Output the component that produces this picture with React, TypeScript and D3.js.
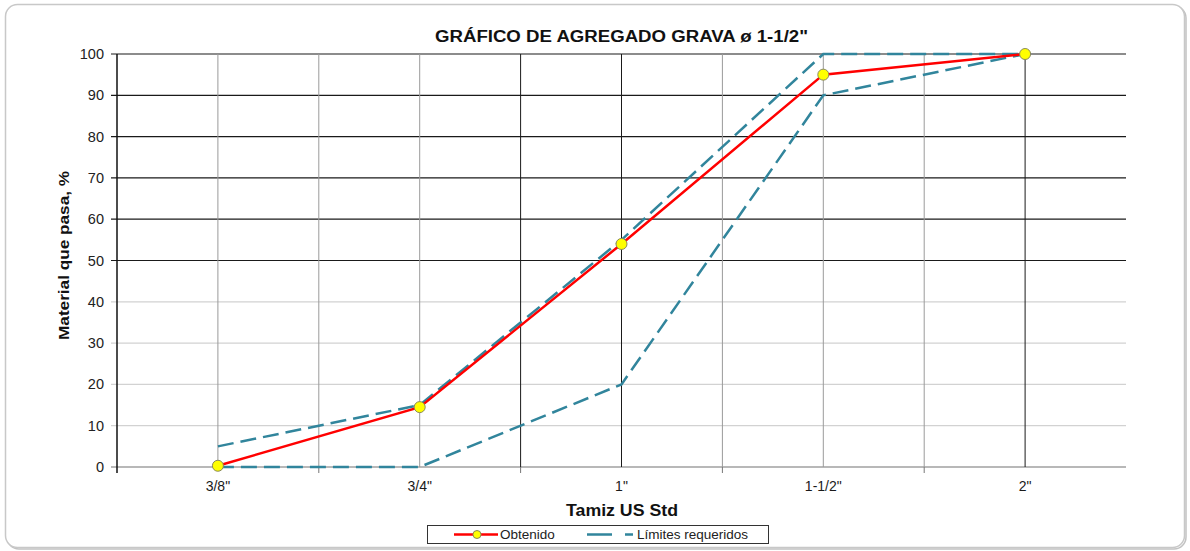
import React from "react";
import * as d3 from "d3";

const categories = ['3/8"', '3/4"', '1"', '1-1/2"', '2"'];
const obtenido = [0.3, 14.5, 54, 95, 100];
const limiteSuperior = [5, 15, 55, 100, 100];
const limiteInferior = [0, 0, 20, 90, 100];
const yTicks = [0, 10, 20, 30, 40, 50, 60, 70, 80, 90, 100];

const W = 1190;
const H = 551;
const left = 117;
const right = 1126;
const top = 54;
const bottom = 467;
const FONT = "'Liberation Sans', Arial, sans-serif";

export default function App() {
  const x = d3.scaleBand<string>().domain(categories).range([left, right]).paddingInner(0).paddingOuter(0);
  const y = d3.scaleLinear().domain([0, 100]).range([bottom, top]);
  const bw = x.bandwidth();
  const cx = (c: string) => (x(c) as number) + bw / 2;

  const line = d3
    .line<number>()
    .x((_, i) => cx(categories[i]))
    .y((d) => y(d));

  const vLines: { pos: number; color: string }[] = [];
  const darkIdx = new Set([4, 5, 9]);
  for (let i = 1; i < categories.length * 2; i++) {
    const pos = left + (bw / 2) * i;
    vLines.push({ pos, color: darkIdx.has(i) ? "#1a1a1a" : "#9a9a9a" });
  }
  const boundaryTicks = d3.range(0, categories.length + 1).map((i) => left + bw * i);

  const teal = "#31859c";

  return (
    <svg width={W} height={H} style={{ position: "absolute", left: 0, top: 0, background: "#fff" }}>
      <rect x={7} y={6} width={1179} height={543} rx={12} fill="none" stroke="#9a9a9a" strokeWidth={1.5} opacity={0.6} />
      <rect x={5.5} y={4.5} width={1179} height={543} rx={12} fill="#fff" stroke="#c8c8c8" strokeWidth={1.5} />

      <text x={621.5} y={42} textAnchor="middle" fontFamily={FONT} fontWeight="bold" fontSize={16} textLength={373} lengthAdjust="spacingAndGlyphs" fill="#111">
        GRÁFICO DE AGREGADO GRAVA ø 1-1/2"
      </text>

      {yTicks.map((t) => (
        <line
          key={"h" + t}
          x1={left - 6}
          x2={right}
          y1={y(t)}
          y2={y(t)}
          stroke={t === 0 ? "#a0a0a0" : t >= 50 ? "#1a1a1a" : "#d2d2d2"}
          strokeWidth={t === 0 ? 1.5 : 1.2}
        />
      ))}

      {vLines.map((v, i) => (
        <line key={"v" + i} x1={v.pos} x2={v.pos} y1={top} y2={bottom} stroke={v.color} strokeWidth={1} />
      ))}
      {boundaryTicks.slice(1, -1).map((p, i) => (
        <line key={"bt" + i} x1={p} x2={p} y1={bottom} y2={bottom + 6} stroke="#777" strokeWidth={1} />
      ))}

      <line x1={left} x2={left} y1={top} y2={bottom + 6} stroke="#111" strokeWidth={1.5} />
      {yTicks.map((t) => (
        <text key={"yl" + t} x={104} y={y(t) + 5} textAnchor="end" fontFamily={FONT} fontSize={14.5} fill="#222">
          {t}
        </text>
      ))}

      {categories.map((c) => (
        <text key={"xl" + c} x={cx(c)} y={491} textAnchor="middle" fontFamily={FONT} fontSize={14} fill="#1a1a1a">
          {c}
        </text>
      ))}

      <text x={622} y={516} textAnchor="middle" fontFamily={FONT} fontWeight="bold" fontSize={16} textLength={112} lengthAdjust="spacingAndGlyphs" fill="#111">
        Tamiz US Std
      </text>
      <text
        transform={`translate(69,255.5) rotate(-90)`}
        textAnchor="middle"
        fontFamily={FONT}
        fontWeight="bold"
        fontSize={15.5}
        textLength={169}
        lengthAdjust="spacingAndGlyphs"
        fill="#111"
      >
        Material que pasa, %
      </text>

      <path d={line(limiteSuperior) || ""} fill="none" stroke={teal} strokeWidth={2.5} strokeDasharray="16,7" />
      <path d={line(limiteInferior) || ""} fill="none" stroke={teal} strokeWidth={2.5} strokeDasharray="16,7" />

      <path d={line(obtenido) || ""} fill="none" stroke="#ff0000" strokeWidth={2.5} />
      {obtenido.map((v, i) => (
        <circle key={"m" + i} cx={cx(categories[i])} cy={y(v)} r={5.5} fill="#ffff00" stroke="#8a8a5a" strokeWidth={1} />
      ))}

      <rect x={427.5} y={525.5} width={341} height={18} fill="#fff" stroke="#333" strokeWidth={1} />
      <line x1={454} x2={498} y1={534.5} y2={534.5} stroke="#ff0000" strokeWidth={2.5} />
      <circle cx={477} cy={534.5} r={4} fill="#ffff00" stroke="#8a8a5a" strokeWidth={1} />
      <text x={500} y={539} fontFamily={FONT} fontSize={13.5} fill="#222">
        Obtenido
      </text>
      <line x1={587} x2={633} y1={534.5} y2={534.5} stroke={teal} strokeWidth={2.5} strokeDasharray="25,13" />
      <text x={637} y={539} fontFamily={FONT} fontSize={13.5} fill="#222">
        Límites requeridos
      </text>
    </svg>
  );
}
